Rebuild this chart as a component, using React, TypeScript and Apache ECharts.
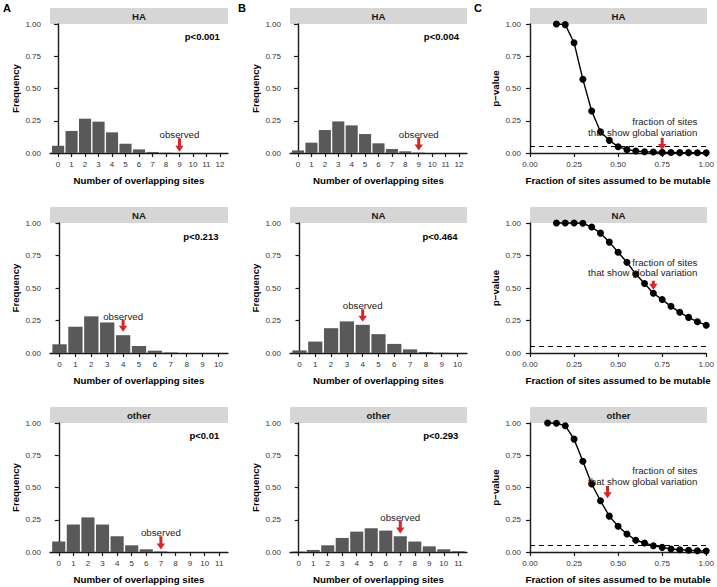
import React, { useEffect, useRef } from "react";
import * as echarts from "echarts";

const FONT = "'Liberation Sans', Arial, Helvetica, sans-serif";

// ---- Data ----
const stripLabels = ["HA", "NA", "other"];

// Column A: frequency of overlapping sites
const freqA_HA = [0.057, 0.171, 0.266, 0.243, 0.16, 0.072, 0.028, 0.008, 0.002, 0, 0, 0, 0];
const freqA_NA = [0.067, 0.202, 0.282, 0.235, 0.137, 0.054, 0.018, 0.004, 0, 0, 0];
const freqA_other = [0.081, 0.213, 0.268, 0.213, 0.122, 0.052, 0.021, 0.004, 0, 0, 0, 0];

// Column B: frequency of overlapping sites
const freqB_HA = [0.02, 0.08, 0.178, 0.245, 0.214, 0.147, 0.075, 0.031, 0.013, 0.003, 0, 0, 0];
const freqB_NA = [0.02, 0.088, 0.191, 0.243, 0.217, 0.145, 0.07, 0.028, 0.008, 0.002, 0];
const freqB_other = [0.003, 0.016, 0.052, 0.109, 0.158, 0.184, 0.166, 0.122, 0.081, 0.044, 0.021, 0.006];

// Observed number of overlapping sites
const observedSites = [9, 4, 7];

// p-value labels
const pLabelsA = ["p<0.001", "p<0.213", "p<0.01"];
const pLabelsB = ["p<0.004", "p<0.464", "p<0.293"];

// "observed" arrow: [top, tip, text y] per row
const obsArrowA = [
  [0.114, 0.01, 0.145],
  [0.258, 0.163, 0.282],
  [0.122, 0.02, 0.153],
];
const obsArrowB = [
  [0.12, 0.02, 0.142],
  [0.336, 0.24, 0.362],
  [0.247, 0.143, 0.27],
];

// Column C: p-value vs fraction of sites assumed mutable
const fracHA = [0.15, 0.2, 0.25, 0.3, 0.35, 0.4, 0.45, 0.5, 0.55, 0.6, 0.65, 0.7, 0.75, 0.8, 0.85, 0.9, 0.95, 1.0];
const pvalHA = [1.0, 0.995, 0.855, 0.571, 0.326, 0.165, 0.098, 0.049, 0.026, 0.015, 0.01, 0.008, 0.005, 0.004, 0.003, 0.003, 0.002, 0.002];
const fracNA = [0.15, 0.2, 0.25, 0.3, 0.35, 0.4, 0.45, 0.5, 0.55, 0.6, 0.65, 0.7, 0.75, 0.8, 0.85, 0.9, 0.95, 1.0];
const pvalNA = [1.0, 1.0, 1.0, 0.998, 0.969, 0.922, 0.853, 0.775, 0.698, 0.607, 0.535, 0.46, 0.411, 0.359, 0.313, 0.274, 0.24, 0.214];
const fracOther = [0.1, 0.15, 0.2, 0.25, 0.3, 0.35, 0.4, 0.45, 0.5, 0.55, 0.6, 0.65, 0.7, 0.75, 0.8, 0.85, 0.9, 0.95, 1.0];
const pvalOther = [1.0, 0.998, 0.979, 0.875, 0.704, 0.527, 0.397, 0.278, 0.2, 0.14, 0.091, 0.07, 0.049, 0.036, 0.023, 0.018, 0.013, 0.01, 0.008];

const significance = 0.05;
// global variation fraction arrow: [x, top, tip, textLine1 y, textLine2 y]
const globalVar = [
  [0.75, 0.119, 0.023, 0.235, 0.168],
  [0.7, 0.555, 0.486, 0.695, 0.623],
  [0.44, 0.512, 0.416, 0.626, 0.553],
];
const globalTextX = 0.95;

// ---- Layout ----
const colLeft = [50, 290, 530];
const colWidth = [178, 177, 177];
const rowTop = [24, 223, 423];
const rowHeight = [129, 130, 129];
const stripH = 16;

const TXT = "#333";
const AX = "#1a1a1a";

function App() {
  const ref = useRef<HTMLDivElement>(null);
  useEffect(() => {
    document.body.style.margin = "0";
    if (!ref.current) return;
    const chart = echarts.init(ref.current, undefined, { renderer: "svg" });

    const freqA = [freqA_HA, freqA_NA, freqA_other];
    const freqB = [freqB_HA, freqB_NA, freqB_other];
    const fracs = [fracHA, fracNA, fracOther];
    const pvals = [pvalHA, pvalNA, pvalOther];

    const grids: any[] = [];
    const xAxes: any[] = [];
    const yAxes: any[] = [];
    const series: any[] = [];
    const graphics: any[] = [];

    const yAxisBase = (name: string, idx: number) => ({
      gridIndex: idx,
      type: "value",
      min: 0,
      max: 1,
      interval: 0.25,
      name,
      nameLocation: "middle",
      nameGap: 30,
      nameTextStyle: { fontFamily: FONT, fontWeight: "bold", fontSize: 9.7, color: "#000" },
      axisLine: { show: true, lineStyle: { color: AX, width: 1.4 } },
      axisTick: { show: true, length: 4, lineStyle: { color: AX, width: 1.2 } },
      axisLabel: {
        formatter: (v: number) => v.toFixed(2),
        fontFamily: FONT,
        fontSize: 8,
        color: TXT,
        margin: 9,
      },
      splitLine: { show: false },
    });

    const textSeries = (idx: number, x: number, y: number, text: string, align: string, bold: boolean, lineHeight?: number) => ({
      type: "custom",
      xAxisIndex: idx,
      yAxisIndex: idx,
      z: 5,
      silent: true,
      data: [[x, y]],
      renderItem: (_p: any, api: any) => {
        const pt = api.coord([api.value(0), api.value(1)]);
        return {
          type: "text",
          x: pt[0],
          y: pt[1],
          style: {
            text,
            fill: bold ? "#000" : "#222",
            fontFamily: FONT,
            fontSize: bold ? 9.5 : 9.7,
            fontWeight: bold ? "bold" : "normal",
            align,
            verticalAlign: "middle",
            lineHeight: lineHeight || 11,
          },
        };
      },
    });

    const arrowSeries = (idx: number, x: number, top: number, tip: number) => ({
      type: "custom",
      xAxisIndex: idx,
      yAxisIndex: idx,
      z: 6,
      silent: true,
      data: [[x, top, tip]],
      renderItem: (_p: any, api: any) => {
        const p1 = api.coord([api.value(0), api.value(1)]);
        const p2 = api.coord([api.value(0), api.value(2)]);
        const cx = p1[0];
        const headLen = 6;
        const headHalf = 4.2;
        const shaftHalf = 1.5;
        const hb = p2[1] - headLen;
        return {
          type: "polygon",
          shape: {
            points: [
              [cx - shaftHalf, p1[1]],
              [cx + shaftHalf, p1[1]],
              [cx + shaftHalf, hb],
              [cx + headHalf, hb],
              [cx, p2[1]],
              [cx - headHalf, hb],
              [cx - shaftHalf, hb],
            ],
          },
          style: { fill: "#d4262b" },
        };
      },
    });

    for (let r = 0; r < 3; r++) {
      for (let c = 0; c < 3; c++) {
        const idx = r * 3 + c;
        grids.push({ left: colLeft[c], top: rowTop[r], width: colWidth[c], height: rowHeight[r], containLabel: false });

        // strip
        graphics.push({
          type: "rect",
          left: colLeft[c],
          top: rowTop[r] - stripH,
          shape: { width: colWidth[c], height: stripH },
          style: { fill: "#d6d6d6" },
          z: 0,
        });
        graphics.push({
          type: "text",
          x: colLeft[c] + colWidth[c] / 2,
          y: rowTop[r] - stripH / 2,
          style: {
            text: stripLabels[r],
            fill: "#1a1a1a",
            fontFamily: FONT,
            fontSize: 9.7,
            fontWeight: "bold",
            align: "center",
            verticalAlign: "middle",
          },
          z: 1,
        });

        if (c < 2) {
          const vals = c === 0 ? freqA[r] : freqB[r];
          const n = vals.length;
          const cats = vals.map((_, k) => k);
          const unitPx = colWidth[c] / (n - 1 + 1.2);
          xAxes.push({
            gridIndex: idx,
            type: "value",
            min: -0.6,
            max: n - 1 + 0.6,
            name: "Number of overlapping sites",
            nameLocation: "middle",
            nameGap: 22,
            nameTextStyle: { fontFamily: FONT, fontWeight: "bold", fontSize: 9.7, color: "#000" },
            axisLine: { show: true, onZero: false, lineStyle: { color: AX, width: 1.4 } },
            axisTick: { show: true, length: 4, customValues: cats, lineStyle: { color: AX, width: 1.2 } },
            axisLabel: {
              customValues: cats,
              formatter: (v: number) => String(v),
              fontFamily: FONT,
              fontSize: 8,
              color: TXT,
              margin: 7,
            },
            splitLine: { show: false },
          });
          yAxes.push(yAxisBase("Frequency", idx));
          series.push({
            type: "bar",
            xAxisIndex: idx,
            yAxisIndex: idx,
            barWidth: unitPx * 0.9,
            data: vals.map((v, k) => [k, v]),
            itemStyle: { color: "#595959" },
            silent: true,
          });
          const arr = c === 0 ? obsArrowA[r] : obsArrowB[r];
          const obs = observedSites[r];
          series.push(arrowSeries(idx, obs, arr[0], arr[1]));
          series.push(textSeries(idx, obs, arr[2], "observed", "center", false));
          const pl = c === 0 ? pLabelsA[r] : pLabelsB[r];
          series.push(textSeries(idx, n - 1, 0.9, pl, "right", true));
        } else {
          xAxes.push({
            gridIndex: idx,
            type: "value",
            min: 0,
            max: 1,
            interval: 0.25,
            name: "Fraction of sites assumed to be mutable",
            nameLocation: "middle",
            nameGap: 22,
            nameTextStyle: { fontFamily: FONT, fontWeight: "bold", fontSize: 9.7, color: "#000" },
            axisLine: { show: true, onZero: false, lineStyle: { color: AX, width: 1.4 } },
            axisTick: { show: true, length: 4, lineStyle: { color: AX, width: 1.2 } },
            axisLabel: {
              formatter: (v: number) => v.toFixed(2),
              fontFamily: FONT,
              fontSize: 8,
              color: TXT,
              margin: 7,
              showMinLabel: true,
              showMaxLabel: true,
            },
            splitLine: { show: false },
          });
          yAxes.push(yAxisBase("p\u2212value", idx));
          series.push({
            type: "line",
            xAxisIndex: idx,
            yAxisIndex: idx,
            data: fracs[r].map((f, k) => [f, pvals[r][k]]),
            symbol: "circle",
            symbolSize: 7,
            showAllSymbol: true,
            clip: false,
            lineStyle: { color: "#000", width: 1.4 },
            itemStyle: { color: "#000" },
            z: 3,
            silent: true,
            markLine: {
              silent: true,
              symbol: ["none", "none"],
              label: { show: false },
              lineStyle: { color: "#000", type: [5, 4], width: 1.2 },
              data: [{ yAxis: significance }],
            },
          });
          const g = globalVar[r];
          series.push(arrowSeries(idx, g[0], g[1], g[2]));
          series.push(
            textSeries(idx, globalTextX, (g[3] + g[4]) / 2, "fraction of sites\nthat show global variation", "right", false, 10.5)
          );
        }
      }
    }

    ["A", "B", "C"].forEach((t, i) => {
      graphics.push({
        type: "text",
        x: [3, 238, 474][i],
        y: 2,
        style: { text: t, fill: "#000", fontFamily: FONT, fontSize: 11, fontWeight: "bold", align: "left", verticalAlign: "top" },
        z: 1,
      });
    });

    chart.setOption({
      animation: false,
      backgroundColor: "#fff",
      grid: grids,
      xAxis: xAxes,
      yAxis: yAxes,
      series,
      graphic: graphics,
    });
    return () => chart.dispose();
  }, []);
  return <div ref={ref} style={{ width: 717, height: 587 }} />;
}

export default App;
